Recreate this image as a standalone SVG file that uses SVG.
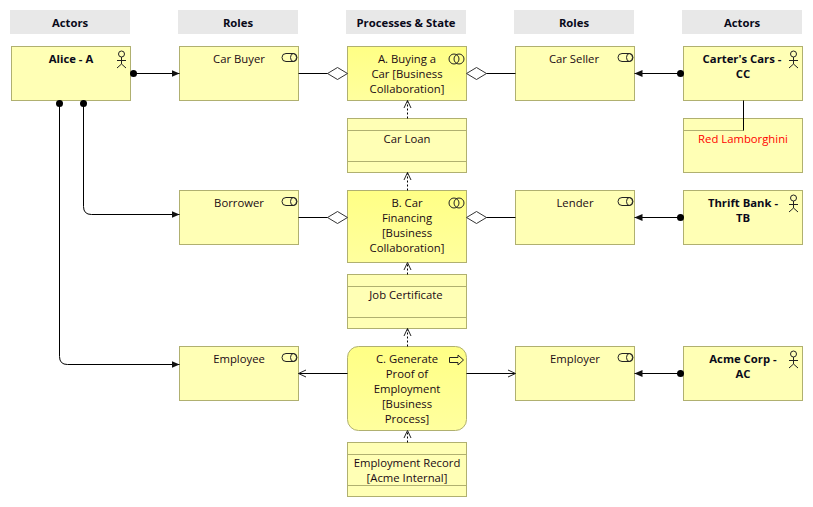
<svg xmlns="http://www.w3.org/2000/svg" width="813" height="507" viewBox="0 0 813 507">
<style>
text{font-family:"Open Sans","Noto Sans","Liberation Sans",sans-serif;font-size:11.3px;text-anchor:middle;fill:#1a0a14}
.b{font-weight:700;fill:#0a0a1a}
.h{fill:#e8e8e8}
.n{fill:#ffffb5;stroke:#b0b070;stroke-width:1}
.g{fill:url(#grad);stroke:#b0b070;stroke-width:1}
.d{fill:none;stroke:#b0b070;stroke-width:1}
.i{fill:none;stroke:#222;stroke-width:1}
.c{fill:none;stroke:#000;stroke-width:1}
.dash{fill:none;stroke:#000;stroke-width:1;stroke-dasharray:2 2}
.dia{fill:#fff;stroke:#333;stroke-width:1}
</style>
<defs>
<linearGradient id="grad" x1="0" y1="0" x2="0" y2="1"><stop offset="0" stop-color="#ffff85"/><stop offset="1" stop-color="#ffff9e"/></linearGradient>
<marker id="fill" viewBox="0 0 8 8" refX="8" refY="4" markerWidth="8" markerHeight="8" markerUnits="userSpaceOnUse" orient="auto"><path d="M0 0.5L8 4L0 7.5Z" fill="#111"/></marker>
<marker id="open" viewBox="0 0 9 10" refX="8.5" refY="5" markerWidth="9" markerHeight="10" markerUnits="userSpaceOnUse" orient="auto"><path d="M1 1.5L8.5 5L1 8.5" fill="none" stroke="#222"/></marker>
<marker id="dot" viewBox="0 0 8 8" refX="4" refY="4" markerWidth="8" markerHeight="8" markerUnits="userSpaceOnUse"><circle cx="4" cy="4" r="3.5" fill="#000"/></marker>
<g id="actor"><circle cx="0" cy="-4" r="3" class="i"/><path d="M0 -1V6M-4.5 2.5H4.5M-4.5 10L0 6L4.5 10" class="i"/></g>
<g id="role"><rect x="-7.5" y="-4" width="15" height="8" rx="4" class="i"/><ellipse cx="4" cy="0" rx="3" ry="4" class="i"/></g>
<g id="collab"><circle cx="-2.5" cy="0" r="5" class="i"/><circle cx="2.5" cy="0" r="5" class="i"/></g>
</defs>
<g id="headers">
<g id="h1"><rect class="h" x="10" y="10" width="120" height="24"/><text class="b" x="70" y="27">Actors</text></g>
<g id="h2"><rect class="h" x="178" y="10" width="120" height="24"/><text class="b" x="238" y="27">Roles</text></g>
<g id="h3"><rect class="h" x="346" y="10" width="120" height="24"/><text class="b" x="406" y="27">Processes &amp; State</text></g>
<g id="h4"><rect class="h" x="514" y="10" width="120" height="24"/><text class="b" x="574" y="27">Roles</text></g>
<g id="h5"><rect class="h" x="682" y="10" width="120" height="24"/><text class="b" x="742" y="27">Actors</text></g>
</g>
<g id="alice"><rect class="n" x="11.5" y="46.5" width="119" height="54"/><text class="b" x="71" y="63">Alice - A</text><use href="#actor" x="121.5" y="58"/></g>
<g id="carbuyer"><rect class="n" x="179.5" y="46.5" width="119" height="54"/><text x="239" y="63">Car Buyer</text><use href="#role" x="289.5" y="57.5"/></g>
<g id="buying"><rect class="g" x="347.5" y="46.5" width="119" height="54"/><text x="407" y="63">A. Buying a</text><text x="407" y="78">Car [Business</text><text x="407" y="93">Collaboration]</text><use href="#collab" x="456.5" y="59"/></g>
<g id="carseller"><rect class="n" x="515.5" y="46.5" width="119" height="54"/><text x="574" y="63">Car Seller</text><use href="#role" x="625.5" y="57.5"/></g>
<g id="carter"><rect class="n" x="683.5" y="46.5" width="119" height="54"/><text class="b" x="742" y="63">Carter's Cars -</text><text class="b" x="743" y="78">CC</text><use href="#actor" x="793.5" y="58"/></g>
<g id="carloan"><rect class="n" x="347.5" y="118.5" width="119" height="54"/><path class="d" d="M347.5 130.5H466.5M347.5 161.5H466.5"/><text x="407" y="143">Car Loan</text></g>
<g id="lamborghini"><rect class="n" x="683.5" y="118.5" width="119" height="54"/><path class="d" d="M683.5 130.5H743.5V118.5"/><text x="743" y="143" style="fill:#f00">Red Lamborghini</text></g>
<g id="borrower"><rect class="n" x="179.5" y="190.5" width="119" height="54"/><text x="239" y="207">Borrower</text><use href="#role" x="289.5" y="201.5"/></g>
<g id="financing"><rect class="g" x="347.5" y="190.5" width="119" height="72"/><text x="407" y="207">B. Car</text><text x="407" y="222">Financing</text><text x="407" y="237">[Business</text><text x="407" y="252">Collaboration]</text><use href="#collab" x="456.5" y="203"/></g>
<g id="lender"><rect class="n" x="515.5" y="190.5" width="119" height="54"/><text x="575" y="207">Lender</text><use href="#role" x="625.5" y="201.5"/></g>
<g id="thrift"><rect class="n" x="683.5" y="190.5" width="119" height="54"/><text class="b" x="743" y="207">Thrift Bank -</text><text class="b" x="743" y="222">TB</text><use href="#actor" x="793.5" y="202"/></g>
<g id="jobcert"><rect class="n" x="347.5" y="274.5" width="119" height="54"/><path class="d" d="M347.5 286.5H466.5M347.5 317.5H466.5"/><text x="406" y="299">Job Certificate</text></g>
<g id="employee"><rect class="n" x="179.5" y="346.5" width="119" height="54"/><text x="239" y="363">Employee</text><use href="#role" x="289.5" y="357.5"/></g>
<g id="generate"><rect class="g" x="347.5" y="346.5" width="119" height="84" rx="11"/><text x="407" y="363">C. Generate</text><text x="407" y="378">Proof of</text><text x="407" y="393">Employment</text><text x="407" y="408">[Business</text><text x="407" y="423">Process]</text><path class="i" d="M449.5 357.5H458V355L463.5 360L458 365V362.5H449.5Z"/></g>
<g id="employer"><rect class="n" x="515.5" y="346.5" width="119" height="54"/><text x="575" y="363">Employer</text><use href="#role" x="625.5" y="357.5"/></g>
<g id="acme"><rect class="n" x="683.5" y="346.5" width="119" height="54"/><text class="b" x="743" y="363">Acme Corp -</text><text class="b" x="743" y="378">AC</text><use href="#actor" x="793.5" y="358"/></g>
<g id="record"><rect class="n" x="347.5" y="442.5" width="119" height="54"/><path class="d" d="M347.5 454.5H466.5M347.5 485.5H466.5"/><text x="407" y="467">Employment Record</text><text x="407" y="482">[Acme Internal]</text></g>
<g id="connectors">
<path class="c" marker-start="url(#dot)" marker-end="url(#fill)" d="M133.5 73.5H179.5"/>
<path class="c" marker-start="url(#dot)" marker-end="url(#fill)" d="M83.5 103.5V206.5Q83.5 214.5 91.5 214.5H179.5"/>
<path class="c" marker-start="url(#dot)" marker-end="url(#fill)" d="M59.5 103.5V356.5Q59.5 364.5 67.5 364.5H179.5"/>
<path class="c" marker-start="url(#dot)" marker-end="url(#fill)" d="M680.5 73.5H634.5"/>
<path class="c" marker-start="url(#dot)" marker-end="url(#fill)" d="M680.5 217.5H634.5"/>
<path class="c" marker-start="url(#dot)" marker-end="url(#fill)" d="M680.5 373.5H634.5"/>
<path class="c" d="M743.5 100.5V130.5"/>
<path class="c" d="M298.5 73.5H328M486 73.5H515.5M298.5 217.5H328M486 217.5H515.5"/>
<path class="dia" d="M347.5 73.5L337.5 67.5L327.5 73.5L337.5 79.5Z"/>
<path class="dia" d="M466.5 73.5L476.5 67.5L486.5 73.5L476.5 79.5Z"/>
<path class="dia" d="M347.5 217.5L337.5 211.5L327.5 217.5L337.5 223.5Z"/>
<path class="dia" d="M466.5 217.5L476.5 211.5L486.5 217.5L476.5 223.5Z"/>
<path class="c" marker-end="url(#open)" d="M347.5 373.5H298.5"/>
<path class="c" marker-end="url(#open)" d="M466.5 373.5H515.5"/>
<path class="dash" marker-end="url(#open)" d="M407.5 118.5V100.5"/>
<path class="dash" marker-end="url(#open)" d="M407.5 190.5V172.5"/>
<path class="dash" marker-end="url(#open)" d="M407.5 274.5V262.5"/>
<path class="dash" marker-end="url(#open)" d="M407.5 346.5V328.5"/>
<path class="dash" marker-end="url(#open)" d="M407.5 442.5V430.5"/>
</g>
</svg>
